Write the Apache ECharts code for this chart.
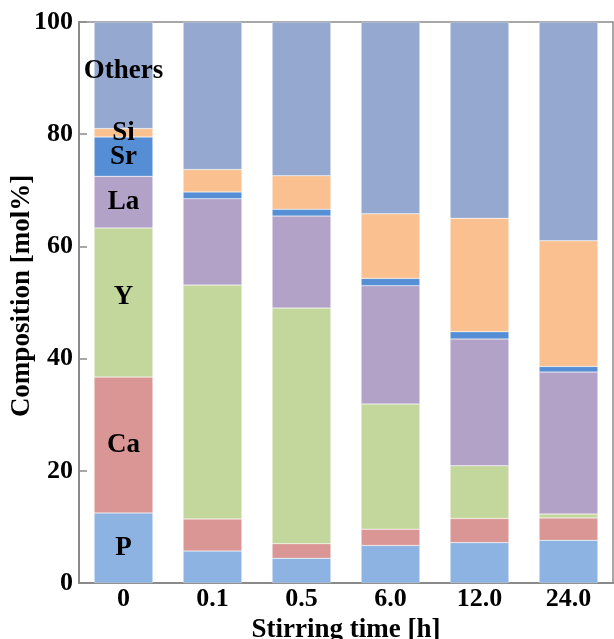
<!DOCTYPE html>
<html>
<head>
<meta charset="utf-8">
<script src="https://cdn.jsdelivr.net/npm/echarts@6/dist/echarts.min.js"></script>
<style>html,body{margin:0;padding:0;background:#fff;overflow:hidden;}#c{width:614px;height:639px;}</style>
</head>
<body>
<div id="c"></div>
<script>
const categories = ['0', '0.1', '0.5', '6.0', '12.0', '24.0'];
const seriesNames = ['P', 'Ca', 'Y', 'La', 'Sr', 'Si', 'Others'];
const P      = [12.5, 5.7, 4.4, 6.7, 7.2, 7.6];
const Ca     = [24.2, 5.7, 2.6, 2.9, 4.3, 4.0];
const Yv     = [26.6, 41.7, 42.0, 22.3, 9.4, 0.7];
const La     = [9.2, 15.4, 16.4, 21.1, 22.6, 25.3];
const Sr     = [7.0, 1.2, 1.2, 1.3, 1.3, 1.0];
const Si     = [1.5, 4.0, 6.0, 11.5, 20.2, 22.4];
const Others = [19.0, 26.3, 27.4, 34.2, 35.0, 39.0];
const yTicks = [0, 20, 40, 60, 80, 100];

const seriesData = [P, Ca, Yv, La, Sr, Si, Others];
const colors = ['#8DB3E2', '#D99694', '#C3D69B', '#B2A2C7', '#558ED5', '#FAC090', '#95A9D0'];
const labelOffsets = [[0,0],[0,0],[0,-5],[0,0],[0,0],[0,0],[0,-4]];
const FONT = '"Liberation Serif", "Times New Roman", serif';

const chart = echarts.init(document.getElementById('c'), null, {renderer: 'canvas'});
chart.setOption({
  animation: false,
  backgroundColor: '#fff',
  grid: {left: 79, right: 1, top: 22, bottom: 56, show: true, borderColor: '#8a8a8a', borderWidth: 1.5,
         containLabel: false, outerBoundsMode: 'none'},
  xAxis: {
    type: 'category',
    data: categories,
    axisLine: {lineStyle: {color: '#8a8a8a', width: 2}},
    axisTick: {show: false},
    axisLabel: {fontFamily: FONT, fontWeight: 'bold', fontSize: 26, color: '#000', margin: 3},
    name: 'Stirring time [h]',
    nameLocation: 'middle',
    nameGap: 31,
    nameTextStyle: {fontFamily: FONT, fontWeight: 'bold', fontSize: 27, color: '#000'}
  },
  yAxis: {
    type: 'value',
    min: 0, max: 100, interval: 20,
    axisLine: {show: true, lineStyle: {color: '#8a8a8a', width: 2}},
    axisTick: {show: true, inside: true, length: 8, lineStyle: {color: '#8a8a8a', width: 1.5}},
    splitLine: {show: false},
    axisLabel: {fontFamily: FONT, fontWeight: 'bold', fontSize: 26, color: '#000', margin: 6,
      formatter: v => yTicks.includes(v) ? String(v) : ''}
  },
  graphic: [{
    type: 'text',
    x: 22, y: 296,
    rotation: Math.PI / 2,
    style: {text: 'Composition [mol%]', font: 'bold 27px ' + FONT, fill: '#000', align: 'center', verticalAlign: 'middle'}
  }],
  series: seriesNames.map((name, i) => ({
    name: name,
    type: 'bar',
    stack: 'total',
    barWidth: '66%',
    data: seriesData[i],
    itemStyle: {color: colors[i], borderColor: 'rgba(255,255,255,0.5)', borderWidth: 0.5},
    label: {
      show: true,
      position: 'inside',
      offset: labelOffsets[i],
      fontFamily: FONT, fontWeight: 'bold', fontSize: 27, color: '#000',
      formatter: p => p.dataIndex === 0 ? name : ''
    }
  }))
});
</script>
</body>
</html>
